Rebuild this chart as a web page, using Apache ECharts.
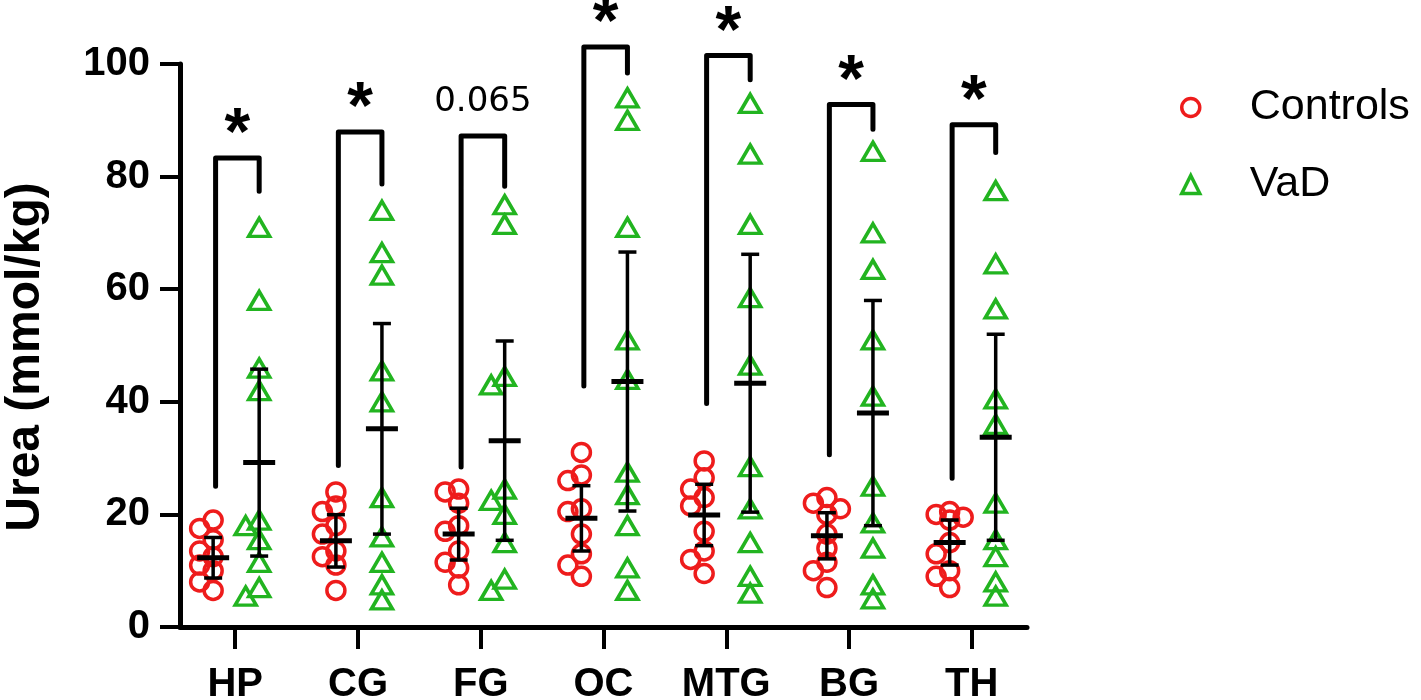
<!DOCTYPE html>
<html>
<head>
<meta charset="utf-8">
<script src="https://cdn.jsdelivr.net/npm/echarts@6/dist/echarts.min.js"></script>
<style>html,body{margin:0;padding:0;background:#fff}#c{width:1421px;height:700px}</style>
</head>
<body>
<div id="c"></div>
<script>
const categories = ['HP', 'CG', 'FG', 'OC', 'MTG', 'BG', 'TH'];
const yTicks = [0, 20, 40, 60, 80, 100];

// individual values (mmol/kg)
const controlsValues = [
  [19, 17.5, 15.5, 13.5, 12.5, 11, 10, 8, 6.5],
  [24, 21.5, 20.5, 18, 16.5, 13.5, 12.5, 11, 6.5],
  [24.5, 24, 22, 18, 17, 13.5, 11.5, 10.5, 7.5],
  [31, 27, 26, 21, 20.5, 16.5, 13, 11, 9],
  [29.5, 26.5, 24.5, 23, 21.5, 17, 13.5, 12, 9.5],
  [23, 22, 21, 20, 16.5, 14, 11.5, 10, 7],
  [20.5, 20, 19.5, 19, 15, 13, 10, 9, 7]
];
const vadValues = [
  [71, 58, 46, 42, 19, 18, 15.5, 11.5, 7, 5.5],
  [74, 66.5, 62.5, 45.5, 40, 23, 16, 11.5, 7.5, 4.8],
  [75, 71.5, 44.5, 43, 24.5, 22.5, 20, 15, 8.5, 6.5],
  [94, 90, 71, 51, 44, 27.5, 23.5, 18, 10.5, 6.5],
  [93, 84, 71.5, 58.5, 46.5, 28.5, 21, 15, 9, 6],
  [84.5, 70, 63.5, 51, 41, 25, 18.5, 14, 7.5, 5],
  [77.5, 64.5, 56.5, 40.5, 36, 22, 15.5, 12.5, 8, 5.5]
];
// mean and SD
const controlsMean = [12.3, 15.3, 16.5, 19.3, 19.9, 16.2, 15.0];
const controlsSD   = [3.6, 4.65, 4.6, 5.8, 5.45, 4.1, 4.0];
const vadMean      = [29.2, 35.2, 33.1, 43.6, 43.3, 38.0, 33.7];
const vadSD        = [16.6, 18.7, 17.7, 23.0, 22.9, 20.0, 18.3];
// significance brackets: left leg bottom, top, right leg bottom (axis units)
const bracketLeft  = [25.0, 28.7, 28.4, 42.8, 39.7, 30.6, 26.4];
const bracketTop   = [83.3, 87.9, 87.2, 103.0, 101.5, 92.8, 89.2];
const bracketRight = [77.4, 78.7, 78.3, 98.4, 97.2, 88.4, 84.3];
const sigLabels    = ['*', '*', '0.065', '*', '*', '*', '*'];

const RED = '#ee1c1c', GREEN = '#22b420', FONT = '"Liberation Sans", Arial, sans-serif';
const CTRL_OFF = -0.18, VAD_OFF = 0.195;
const X_MIN = -0.45, X_MAX = 6.45;
const GRID = {left: 180, right: 394, top: 64, bottom: 73};
const PX_X = (1421 - GRID.left - GRID.right) / (X_MAX - X_MIN);
const PX_Y = (700 - GRID.top - GRID.bottom) / 100;

// simple beeswarm: spread overlapping markers sideways (limited width, overlap allowed)
function swarm(groups, offset) {
  const out = [];
  const cands = [0, -0.065, 0.065, -0.11, 0.11];
  groups.forEach((vals, gi) => {
    const placed = [];
    vals.slice().sort((a, b) => b - a).forEach(v => {
      let best = cands[0], bestD = -1;
      for (const c of cands) {
        const d = placed.length ? Math.min(...placed.map(p => Math.hypot((p[0] - c) * PX_X, (p[1] - v) * PX_Y))) : 1e9;
        if (d >= 14) { best = c; bestD = d; break; }
        if (d > bestD) { bestD = d; best = c; }
      }
      placed.push([best, v]);
      out.push([gi + offset + best, v]);
    });
  });
  return out;
}

const errData = [];
categories.forEach((c, i) => {
  errData.push([i + CTRL_OFF, controlsMean[i], controlsSD[i]]);
  errData.push([i + VAD_OFF, vadMean[i], vadSD[i]]);
});
const bracketData = categories.map((c, i) => [i, bracketLeft[i], bracketTop[i], bracketRight[i]]);

function renderErr(params, api) {
  const x = api.value(0), m = api.value(1), sd = api.value(2);
  const c = api.coord([x, m]), t = api.coord([x, m + sd]), b = api.coord([x, m - sd]);
  const st = w => ({stroke: '#000', lineWidth: w});
  return {type: 'group', children: [
    {type: 'line', shape: {x1: c[0], y1: t[1], x2: c[0], y2: b[1]}, style: st(3.5)},
    {type: 'line', shape: {x1: c[0] - 9, y1: t[1], x2: c[0] + 9, y2: t[1]}, style: st(3.5)},
    {type: 'line', shape: {x1: c[0] - 9, y1: b[1], x2: c[0] + 9, y2: b[1]}, style: st(3.5)},
    {type: 'line', shape: {x1: c[0] - 16, y1: c[1], x2: c[0] + 16, y2: c[1]}, style: st(5)}
  ]};
}

function renderBracket(params, api) {
  const i = api.value(0);
  const xl = i + CTRL_OFF + 0.02, xr = i + VAD_OFF;
  const p1 = api.coord([xl, api.value(1)]), p2 = api.coord([xl, api.value(2)]);
  const p3 = api.coord([xr, api.value(2)]), p4 = api.coord([xr, api.value(3)]);
  const label = sigLabels[params.dataIndex];
  const isStar = label === '*';
  const fs = isStar ? 66 : 34;
  return {type: 'group', children: [
    {type: 'polyline', shape: {points: [p1, p2, p3, p4]},
      style: {stroke: '#000', lineWidth: 5, fill: null, lineCap: 'round', lineJoin: 'round'}},
    {type: 'text', x: (p2[0] + p3[0]) / 2, y: p2[1] - (isStar ? 36 - 0.21 * fs : 34),
      style: {text: label, fill: '#000', align: 'center', verticalAlign: 'middle',
        font: (isStar ? 'bold ' : '') + fs + 'px ' + (isStar ? FONT : '"DejaVu Sans", sans-serif')}}
  ]};
}

const chart = echarts.init(document.getElementById('c'));
chart.setOption({
  animation: false,
  backgroundColor: '#fff',
  grid: Object.assign({outerBoundsMode: 'none', containLabel: false}, GRID),
  legend: {
    orient: 'vertical', left: 1175, top: 81, itemGap: 34, itemWidth: 18, itemHeight: 18,
    textStyle: {fontFamily: FONT, fontSize: 43, color: '#000', padding: [0, 0, 0, 45]},
    data: [
      {name: 'Controls', icon: 'circle', itemStyle: {color: '#fff', borderColor: RED, borderWidth: 3.5}},
      {name: 'VaD', icon: 'triangle', itemStyle: {color: '#fff', borderColor: GREEN, borderWidth: 3.5}}
    ]
  },
  xAxis: {
    type: 'value', min: X_MIN, max: X_MAX,
    splitLine: {show: false},
    axisLine: {onZero: false, lineStyle: {color: '#000', width: 5}},
    axisTick: {show: true, length: 22, lineStyle: {color: '#000', width: 4}, customValues: categories.map((c, i) => i)},
    axisLabel: {customValues: categories.map((c, i) => i), formatter: v => categories[Math.round(v)],
      fontFamily: FONT, fontWeight: 'bold', fontSize: 40, color: '#000', margin: 38}
  },
  yAxis: {
    type: 'value', min: 0, max: 100, interval: 20,
    name: 'Urea (mmol/kg)', nameLocation: 'middle', nameGap: 130,
    nameTextStyle: {fontFamily: FONT, fontWeight: 'bold', fontSize: 48, color: '#000', padding: [0, 23, 0, 0]},
    splitLine: {show: false},
    axisLine: {show: true, onZero: false, lineStyle: {color: '#000', width: 5}},
    axisTick: {show: true, length: 20, lineStyle: {color: '#000', width: 4}},
    axisLabel: {fontFamily: FONT, fontWeight: 'bold', fontSize: 40, color: '#000', margin: 30,
      formatter: v => yTicks.includes(v) ? String(v) : ''}
  },
  series: [
    {name: 'Controls', type: 'scatter', symbol: 'circle', symbolSize: 18, z: 2,
      itemStyle: {color: 'rgba(0,0,0,0)', borderColor: RED, borderWidth: 3.5, opacity: 1},
      data: swarm(controlsValues, CTRL_OFF)},
    {name: 'VaD', type: 'scatter', symbol: 'triangle', symbolSize: [21, 18], z: 2,
      itemStyle: {color: 'rgba(0,0,0,0)', borderColor: GREEN, borderWidth: 3.5, opacity: 1},
      data: swarm(vadValues, VAD_OFF)},
    {type: 'custom', renderItem: renderErr, data: errData, z: 5, clip: false,
      encode: {x: 0, y: 1}, silent: true},
    {type: 'custom', renderItem: renderBracket, data: bracketData, z: 5, clip: false,
      encode: {x: 0, y: 2}, silent: true}
  ]
});
</script>
</body>
</html>
